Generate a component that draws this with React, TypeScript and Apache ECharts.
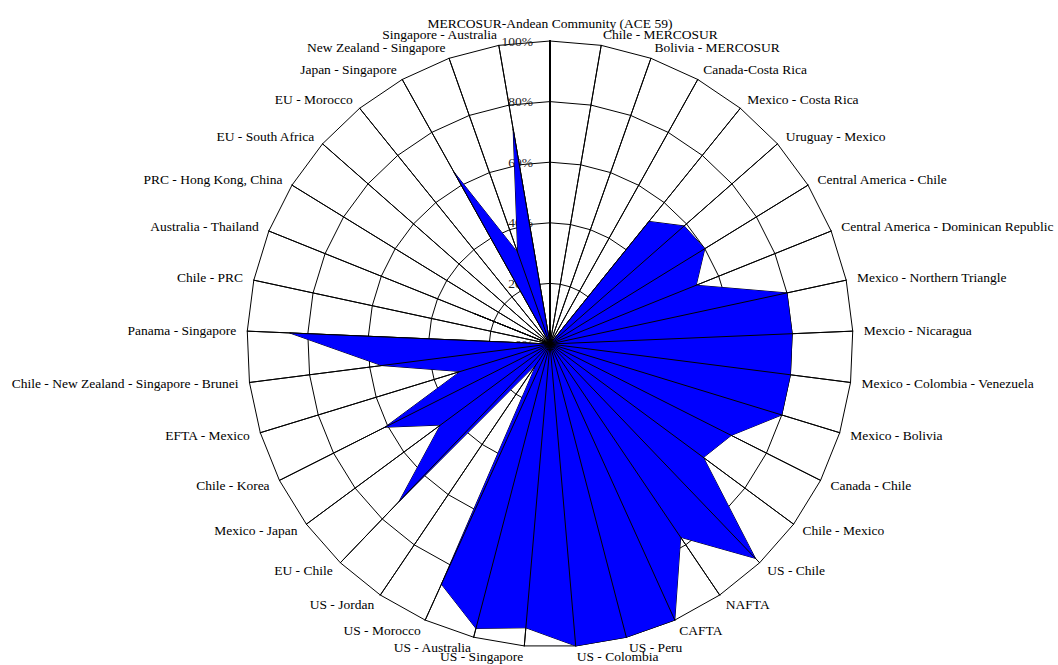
import { useEffect, useRef } from "react";
import * as echarts from "echarts";

// Agreements, clockwise from the top
const agreements = [
  "MERCOSUR-Andean Community (ACE 59)",
  "Chile - MERCOSUR",
  "Bolivia - MERCOSUR",
  "Canada-Costa Rica",
  "Mexico - Costa Rica",
  "Uruguay - Mexico",
  "Central America - Chile",
  "Central America - Dominican Republic",
  "Mexico - Northern Triangle",
  "Mexcio - Nicaragua",
  "Mexico - Colombia - Venezuela",
  "Mexico - Bolivia",
  "Canada - Chile",
  "Chile - Mexico",
  "US - Chile",
  "NAFTA",
  "CAFTA",
  "US - Peru",
  "US - Colombia",
  "US - Singapore",
  "US - Australia",
  "US - Morocco",
  "US - Jordan",
  "EU - Chile",
  "Mexico - Japan",
  "Chile - Korea",
  "EFTA - Mexico",
  "Chile - New Zealand - Singapore - Brunei",
  "Panama - Singapore",
  "Chile - PRC",
  "Australia - Thailand",
  "PRC - Hong Kong, China",
  "EU - South Africa",
  "EU - Morocco",
  "Japan - Singapore",
  "New Zealand - Singapore",
  "Singapore - Australia",
];

// Share (%) per agreement, same order
const shares = [
  0, 0, 0, 0, 52, 59, 60, 52, 80, 80, 80, 80, 67, 63, 98, 77, 100, 100, 100,
  94, 97, 87, 8, 72, 45, 61, 31, 56, 86, 0, 27, 0, 0, 0, 65, 32, 72,
];

const axisMin = 0;
const axisMax = 100;

const FONT = "Liberation Serif, Times New Roman, serif";

export default function App() {
  const ref = useRef<HTMLDivElement>(null);

  useEffect(() => {
    if (!ref.current) return;
    const chart = echarts.init(ref.current, null, { renderer: "svg" });
    const n = agreements.length;
    // ECharts places radar indicators counter-clockwise; reverse to get clockwise
    const order = [0, ...Array.from({ length: n - 1 }, (_, k) => n - 1 - k)];
    const makeIndicators = (withLabels: boolean) =>
      order.map((i, k) => {
        const base: any = { name: agreements[i], min: axisMin, max: axisMax };
        if (k === 0) {
          if (withLabels) {
            base.axisLabel = {
              show: true,
              formatter: "{value}%",
              color: "#222",
              fontFamily: FONT,
              fontSize: 13.5,
              margin: 17,
            };
          }
          base.axisLine = { lineStyle: { color: "#000", width: 2 } };
        }
        return base;
      });

    const common = {
      center: [550, 344],
      radius: 303,
      startAngle: 90,
      splitNumber: 5,
      shape: "polygon",
      nameGap: 11,
      splitArea: { show: false },
      axisTick: { show: false },
      axisLabel: { show: false },
    };

    chart.setOption({
      animation: false,
      backgroundColor: "#fff",
      radar: [
        {
          ...common,
          z: 0,
          indicator: makeIndicators(true),
          axisName: {
            color: "#000",
            fontFamily: FONT,
            fontSize: 13.5,
          },
          axisLine: { show: true, lineStyle: { color: "#000", width: 1 } },
          splitLine: { show: true, lineStyle: { color: "#000", width: 1 } },
        },
        {
          ...common,
          z: 5,
          silent: true,
          indicator: makeIndicators(false),
          axisName: { show: false },
          axisLine: { show: true, lineStyle: { color: "#000", width: 1 } },
          splitLine: { show: false },
        },
      ],
      series: [
        {
          type: "radar",
          radarIndex: 0,
          symbol: "none",
          lineStyle: { color: "#000", width: 1 },
          areaStyle: { color: "#0000FF", opacity: 1 },
          data: [{ value: order.map((i) => shares[i]), name: "Share" }],
        },
      ],
    });
    return () => chart.dispose();
  }, []);

  return (
    <div
      ref={ref}
      style={{ position: "fixed", left: 0, top: 0, width: 1058, height: 665 }}
    />
  );
}
